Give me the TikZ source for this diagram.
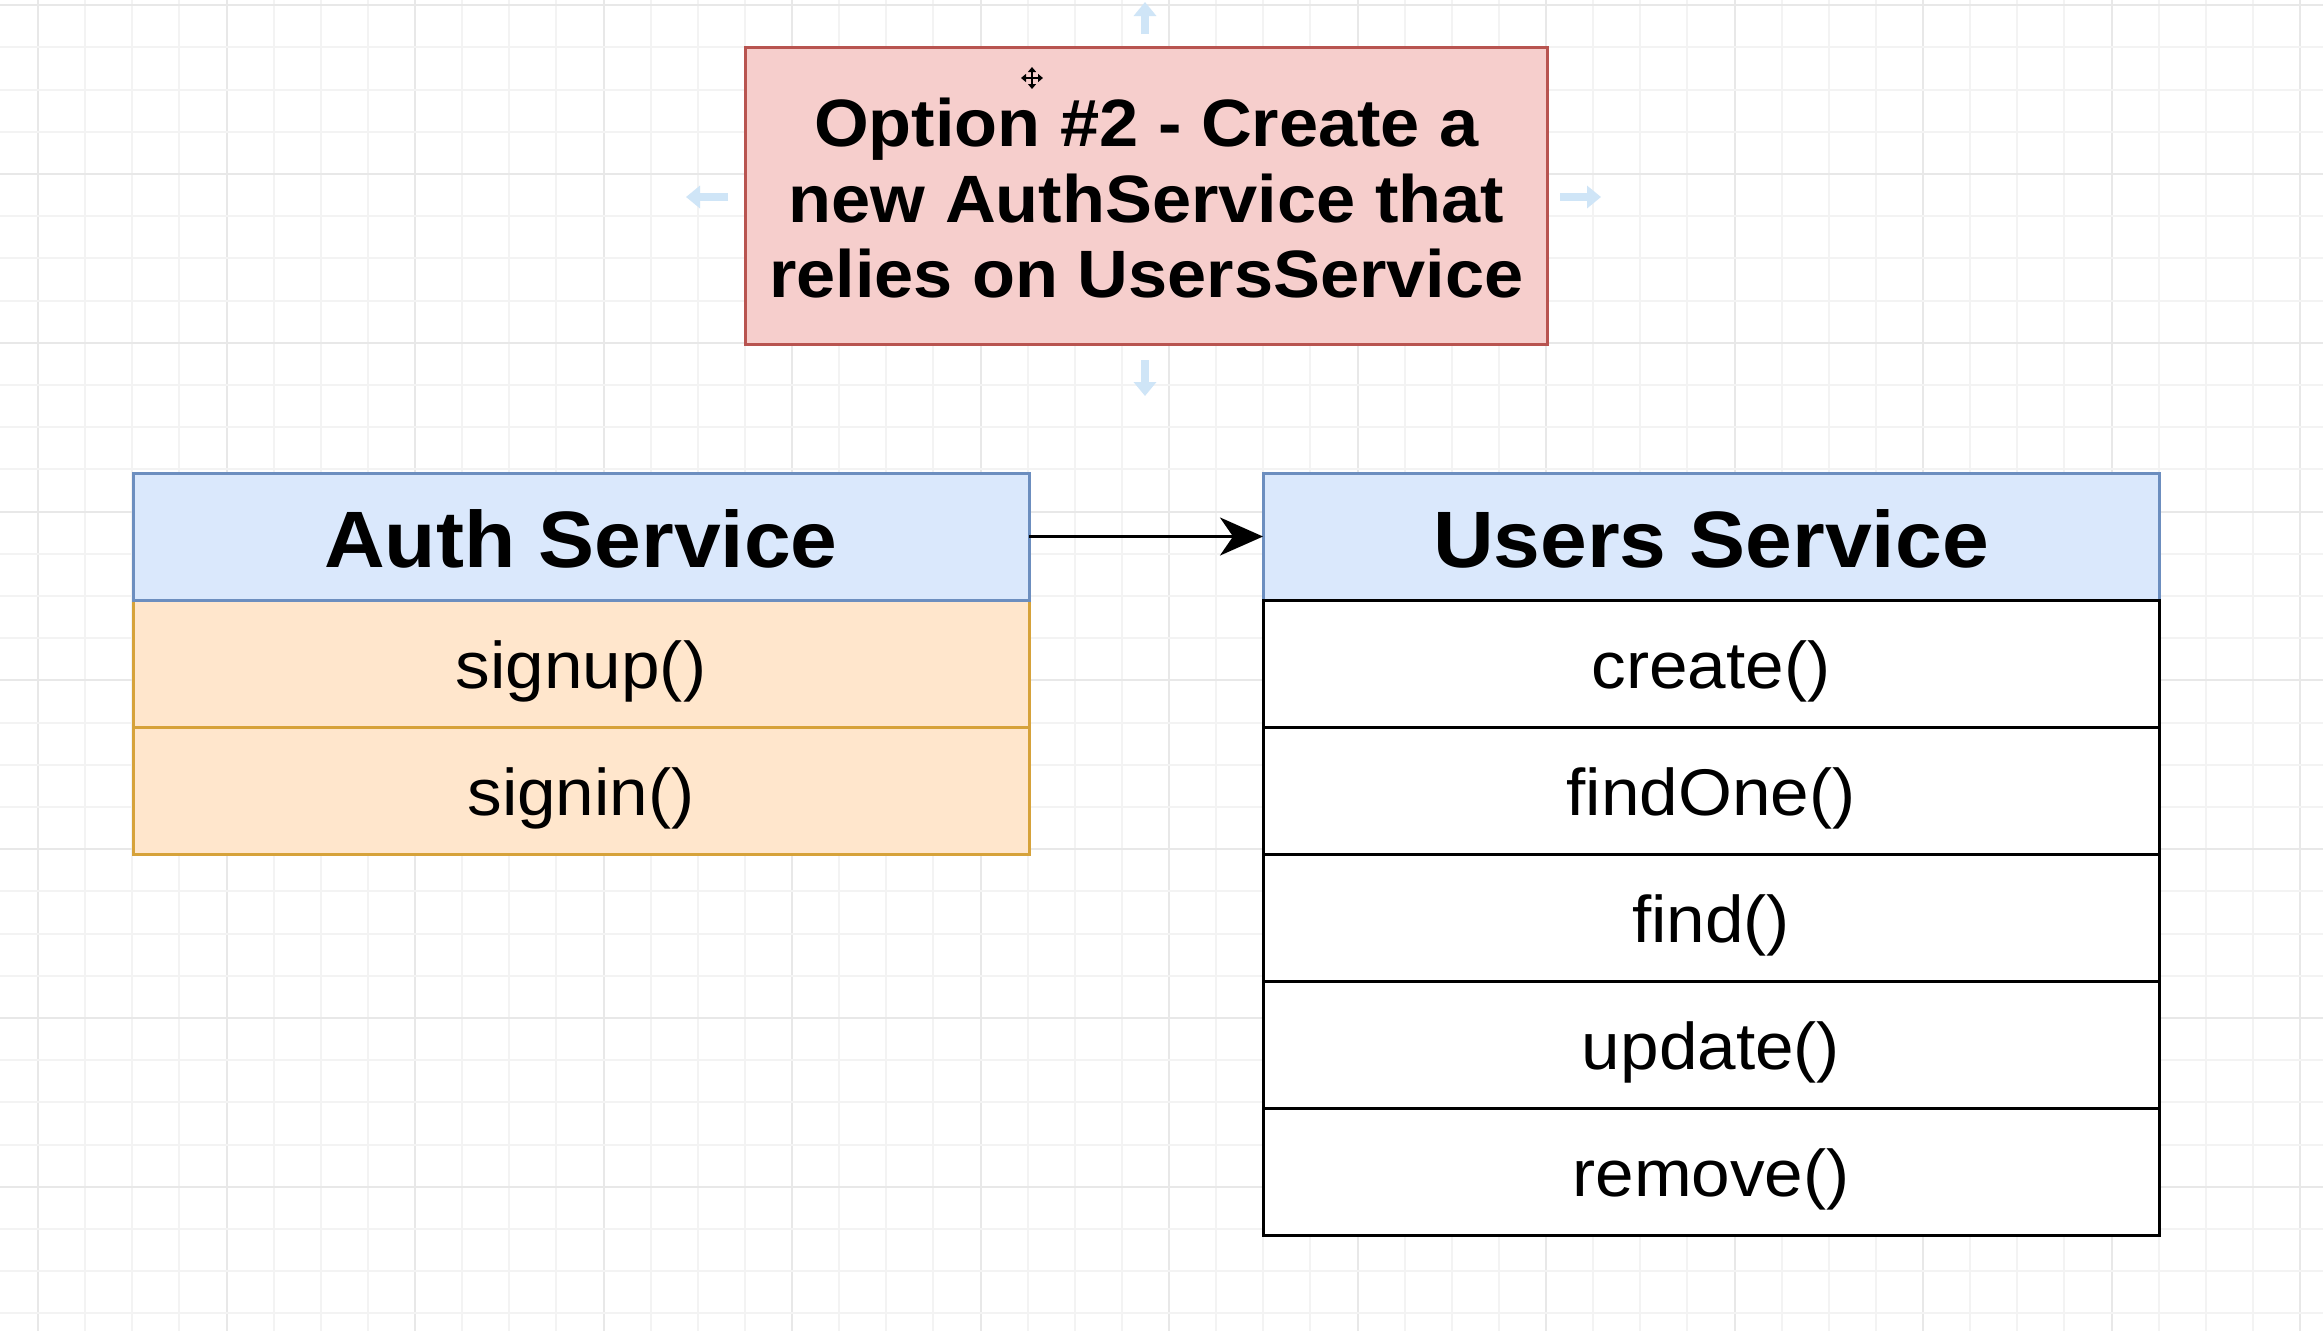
\documentclass[tikz,border=0pt]{standalone}
\usepackage{fontspec}
\newfontfamily\diafont{Liberation Sans}[FakeStretch=1.05]
\usetikzlibrary{arrows.meta,calc}
\definecolor{gridminor}{HTML}{F3F3F3}
\definecolor{gridmajor}{HTML}{E8E8E8}
\definecolor{hdrfill}{HTML}{DAE8FC}
\definecolor{hdrline}{HTML}{6C8EBF}
\definecolor{orfill}{HTML}{FFE6CC}
\definecolor{orline}{HTML}{D6A23A}
\definecolor{redfill}{HTML}{F6CECC}
\definecolor{redline}{HTML}{B85450}
\definecolor{hoverblue}{HTML}{CFE5F7}
\begin{document}
\begin{tikzpicture}[x=1pt,y=-1pt,
  base/.style={rectangle, inner sep=0pt, outer sep=0pt, line width=3pt},
  cell/.style={base, minimum width=896pt, minimum height=127pt,
    font=\diafont\fontsize{66}{70}\selectfont, text height=49pt, text depth=0pt},
  hdr/.style={cell, draw=hdrline, fill=hdrfill,
    font=\diafont\bfseries\fontsize{80}{90}\selectfont, text height=61pt},
  orow/.style={cell, draw=orline, fill=orfill},
  wrow/.style={cell, draw=black, fill=white},
  titlebox/.style={base, draw=redline, fill=redfill, minimum width=802pt, minimum height=297pt},
  titletext/.style={inner sep=0pt, font=\diafont\bfseries\fontsize{67}{75.5}\selectfont, align=center},
  hover/.style={draw=hoverblue, line width=8pt, -{Triangle[length=14pt,width=22pt]}},
  gmin/.style={draw=gridminor, line width=2pt},
  gmaj/.style={draw=gridmajor, line width=2pt},
]
\useasboundingbox (0,0) rectangle (2323,1331);
\fill[white] (0,0) rectangle (2323,1331);
% grid
\foreach \k in {0,...,48} {
  \pgfmathtruncatemacro\m{mod(\k,4)}
  \ifnum\m=0 \draw[gmaj] ({38+47.125*\k},0) -- ++(0,1331);
  \else \draw[gmin] ({38+47.125*\k},0) -- ++(0,1331); \fi
}
\foreach \k in {0,...,31} {
  \pgfmathtruncatemacro\m{mod(\k,4)}
  \ifnum\m=0 \draw[gmaj] (0,{5.2+42.2*\k}) -- ++(2323,0);
  \else \draw[gmin] (0,{5.2+42.2*\k}) -- ++(2323,0); \fi
}
% hover arrows around the title
\coordinate (hTs) at (1145,34); \coordinate (hTe) at (1145,2);
\coordinate (hBs) at (1145,360); \coordinate (hBe) at (1145,396);
\coordinate (hLs) at (728,197); \coordinate (hLe) at (686,197);
\coordinate (hRs) at (1560,197); \coordinate (hRe) at (1601,197);
\draw[hover] (hTs) -- (hTe);
\draw[hover] (hBs) -- (hBe);
\draw[hover] (hLs) -- (hLe);
\draw[hover] (hRs) -- (hRe);
% title
\node[titlebox] (title) at (1146.5,195.5) {};
\node[titletext] (titleT) at ($(title.center)+(0,3)$) {Option \#2 - Create a\\new AuthService that\\relies on UsersService};
% move cursor
\coordinate (cl) at (1021,78); \coordinate (cr) at (1043,78);
\coordinate (ct) at (1032,67); \coordinate (cb) at (1032,89);
\draw[line width=2pt, {Triangle[length=5pt,width=8pt]}-{Triangle[length=5pt,width=8pt]}] (cl) -- (cr);
\draw[line width=2pt, {Triangle[length=5pt,width=8pt]}-{Triangle[length=5pt,width=8pt]}] (ct) -- (cb);
% Auth Service
\node[orow] (signup) at (581,663.5) {signup()};
\node[orow] (signin) at (581,790.5) {signin()};
\node[hdr] (authH) at (581,536.5) {Auth Service};
% Users Service
\node[hdr] (usersH) at (1711,536.5) {Users Service};
\node[wrow] (create) at (1711,663.5) {create()};
\node[wrow] (findOne) at (1711,790.5) {findOne()};
\node[wrow] (find) at (1711,917.5) {find()};
\node[wrow] (update) at (1711,1044.5) {update()};
\node[wrow] (remove) at (1711,1171.5) {remove()};
% connector
\draw[line width=3.5pt, -{Stealth[length=43pt,width=38pt,inset=13pt]}] (authH.east) -- (usersH.west);
\end{tikzpicture}
\end{document}
